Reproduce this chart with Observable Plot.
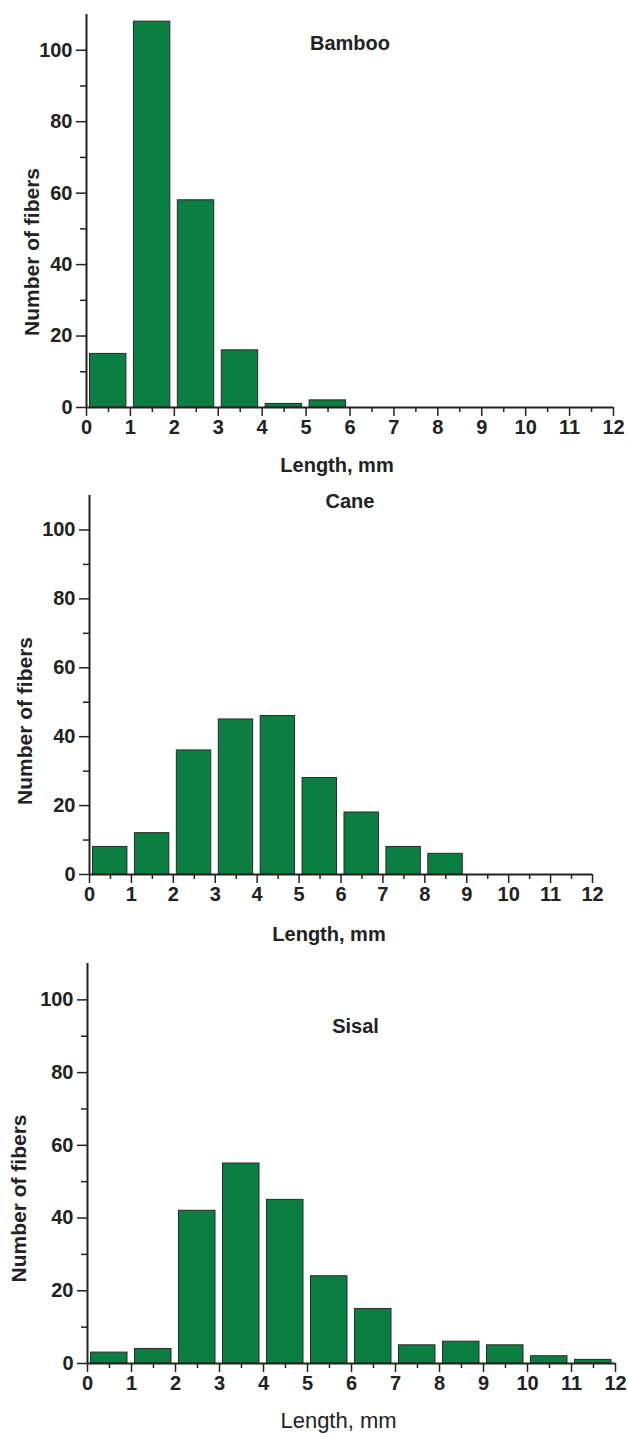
<!DOCTYPE html>
<html>
<head>
<meta charset="utf-8">
<script src="https://cdn.jsdelivr.net/npm/d3@7"></script>
<script src="https://cdn.jsdelivr.net/npm/@observablehq/plot@0.6"></script>
<style>
  html, body { margin: 0; padding: 0; background: #fff; }
  #charts svg { display: block; }
</style>
</head>
<body>
<div id="charts"></div>
<script>
// Fiber length histograms: 1 mm bins from 0 to 12 mm
const binStarts = [0, 1, 2, 3, 4, 5, 6, 7, 8, 9, 10, 11];
const bambooCounts = [15, 108, 58, 16, 1, 2, 0, 0, 0, 0, 0, 0];
const caneCounts = [8, 12, 36, 45, 46, 28, 18, 8, 6, 0, 0, 0];
const sisalCounts = [3, 4, 42, 55, 45, 24, 15, 5, 6, 5, 2, 1];

const xTicks = [0, 1, 2, 3, 4, 5, 6, 7, 8, 9, 10, 11, 12];
const xMinorTicks = [0.5, 1.5, 2.5, 3.5, 4.5, 5.5, 6.5, 7.5, 8.5, 9.5, 10.5, 11.5];
const yTicks = [0, 20, 40, 60, 80, 100];
const yMinorTicks = [10, 30, 50, 70, 90];

const xLabel = "Length, mm";
const yLabel = "Number of fibers";

const FONT = '"Liberation Sans", Arial, Helvetica, sans-serif';
const INK = "#222";

function histogram(opts) {
  const data = binStarts
    .map((start, i) => ({start, count: opts.counts[i]}))
    .filter((d) => d.count > 0);
  return Plot.plot({
    width: 628,
    height: opts.height,
    marginTop: opts.margin[0],
    marginRight: opts.margin[1],
    marginBottom: opts.margin[2],
    marginLeft: opts.margin[3],
    style: {fontFamily: FONT, background: "#fff", color: INK, overflow: "visible"},
    x: {domain: [0, 12], axis: null},
    y: {domain: [0, 110], axis: null},
    marks: [
      Plot.rectY(data, {
        x1: "start",
        x2: (d) => d.start + 1,
        y: "count",
        insetLeft: 3.5,
        insetRight: 4,
        fill: "#0b7f41",
        stroke: "#2a2a2a",
        strokeWidth: 1
      }),
      // minor ticks
      Plot.axisX({ticks: xMinorTicks, tickSize: 5, tickFormat: () => "", label: null, strokeWidth: 1.5}),
      Plot.axisY({ticks: yMinorTicks, tickSize: 6, tickFormat: () => "", label: null, strokeWidth: 1.5}),
      // major ticks with labels
      Plot.axisX({
        ticks: xTicks, tickSize: 9, tickPadding: 3, tickFormat: (d) => String(d), label: null,
        fontSize: 20, fontWeight: "bold", strokeWidth: 1.5
      }),
      Plot.axisY({
        ticks: yTicks, tickSize: 10, tickPadding: 4, tickFormat: (d) => String(d), label: null,
        fontSize: 20, fontWeight: "bold", strokeWidth: 1.5
      }),
      // axis lines
      Plot.ruleY([0], {stroke: INK, strokeWidth: 2}),
      Plot.ruleX([0], {stroke: INK, strokeWidth: 2}),
      // panel title
      Plot.text([opts.title], {
        text: (d) => d, frameAnchor: "top", lineAnchor: "middle", textAnchor: "middle",
        dx: opts.titleDx, dy: opts.titleDy,
        fontSize: 20, fontWeight: "bold", fill: INK
      }),
      // axis titles
      Plot.text([xLabel], {
        text: (d) => d, frameAnchor: "bottom", lineAnchor: "middle", textAnchor: "middle",
        dx: opts.xLabelDx, dy: opts.xLabelDy,
        fontSize: opts.xLabelSize, fontWeight: opts.xLabelWeight, fill: INK
      }),
      Plot.text([yLabel], {
        text: (d) => d, frameAnchor: "left", lineAnchor: "middle", textAnchor: "middle",
        rotate: -90, dx: opts.yLabelDx, dy: opts.yLabelDy,
        fontSize: 21, fontWeight: "bold", fill: INK
      })
    ]
  });
}

const container = document.getElementById("charts");

container.append(histogram({
  title: "Bamboo", counts: bambooCounts, height: 480,
  margin: [14, 15, 73, 86],
  titleDx: 0, titleDy: 29,
  xLabelDx: -13, xLabelDy: 58, xLabelSize: 20, xLabelWeight: "bold",
  yLabelDx: -54, yLabelDy: 41
}));

container.append(histogram({
  title: "Cane", counts: caneCounts, height: 470,
  margin: [15, 36, 76, 89],
  titleDx: 9, titleDy: 6,
  xLabelDx: -12, xLabelDy: 60, xLabelSize: 20, xLabelWeight: "bold",
  yLabelDx: -64, yLabelDy: 36
}));

container.append(histogram({
  title: "Sisal", counts: sisalCounts, height: 487,
  margin: [13, 13, 74, 87],
  titleDx: 4, titleDy: 63,
  xLabelDx: -13, xLabelDy: 57, xLabelSize: 22, xLabelWeight: "normal",
  yLabelDx: -68, yLabelDy: 35
}));
</script>
</body>
</html>
